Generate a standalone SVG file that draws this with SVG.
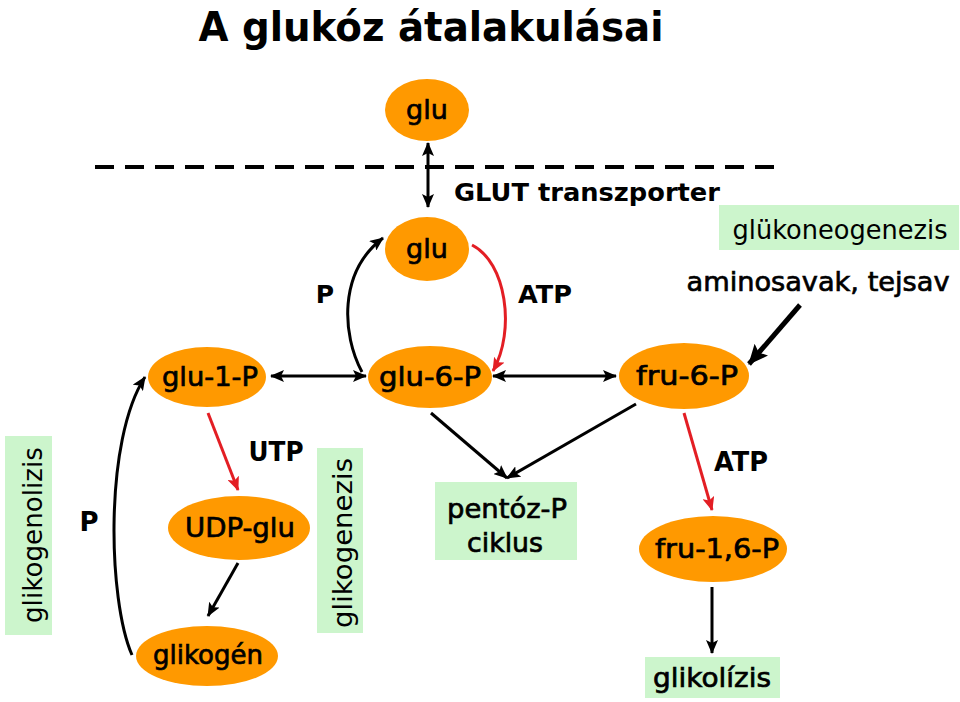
<svg xmlns="http://www.w3.org/2000/svg" width="960" height="702" viewBox="0 0 960 702">
<defs>
<style>
.node{fill:#FF9900;}
.lbl{font-family:"DejaVu Sans","Liberation Sans",sans-serif;font-size:27px;fill:#000;text-anchor:middle;}
.med{stroke:#000;stroke-width:0.7;}
.bold{font-family:"DejaVu Sans","Liberation Sans",sans-serif;font-weight:bold;fill:#000;}
.box{fill:#CCF5CC;}
.con{fill:none;stroke:#000;stroke-width:3;}
.red{fill:none;stroke:#E31E24;stroke-width:3;}
</style>
<marker id="ah" viewBox="0 0 14 12" refX="13" refY="6" markerWidth="14" markerHeight="12" markerUnits="userSpaceOnUse" orient="auto-start-reverse"><path d="M0,0 L14,6 L0,12 L3,6 z" fill="#000"/></marker>
<marker id="ahr" viewBox="0 0 14 12" refX="13" refY="6" markerWidth="14" markerHeight="12" markerUnits="userSpaceOnUse" orient="auto"><path d="M0,0 L14,6 L0,12 L3,6 z" fill="#E31E24"/></marker>
<marker id="ahb" viewBox="0 0 20 18" refX="19" refY="9" markerWidth="20" markerHeight="18" markerUnits="userSpaceOnUse" orient="auto"><path d="M0,0 L20,9 L0,18 L4,9 z" fill="#000"/></marker>
</defs>
<rect width="960" height="702" fill="#fff"/>
<text id="title" x="431" y="41" class="bold" font-size="40" text-anchor="middle" textLength="465" lengthAdjust="spacingAndGlyphs">A glukóz átalakulásai</text>
<line x1="95" y1="167" x2="782" y2="167" stroke="#000" stroke-width="4" stroke-dasharray="19 11"/>
<text x="454" y="201" class="bold" font-size="25" textLength="266" lengthAdjust="spacingAndGlyphs">GLUT transzporter</text>
<text x="325" y="303" class="bold" font-size="25" text-anchor="middle">P</text>
<text x="545" y="303" class="bold" font-size="25" text-anchor="middle" textLength="54" lengthAdjust="spacingAndGlyphs">ATP</text>
<text x="818" y="291" class="lbl med" font-size="25" textLength="263" lengthAdjust="spacingAndGlyphs">aminosavak, tejsav</text>
<text x="276" y="461" class="bold" font-size="27" text-anchor="middle" textLength="55" lengthAdjust="spacingAndGlyphs">UTP</text>
<text x="89" y="531" class="bold" font-size="26" text-anchor="middle">P</text>
<text x="741" y="471" class="bold" font-size="27" text-anchor="middle" textLength="54" lengthAdjust="spacingAndGlyphs">ATP</text>
<g id="glukoneogenezis"><rect class="box" x="719" y="205" width="240" height="45"/><text x="840" y="239" class="lbl" font-size="25" textLength="215" lengthAdjust="spacingAndGlyphs">glükoneogenezis</text></g>
<g id="glikogenolizis"><rect class="box" x="5" y="436" width="47" height="199"/><text transform="translate(42,535) rotate(-90)" class="lbl" font-size="26" textLength="176" lengthAdjust="spacingAndGlyphs">glikogenolizis</text></g>
<g id="glikogenezis"><rect class="box" x="317" y="448" width="46" height="185"/><text transform="translate(352,543) rotate(-90)" class="lbl" font-size="26" textLength="170" lengthAdjust="spacingAndGlyphs">glikogenezis</text></g>
<g id="pentoz"><rect class="box" x="435" y="482" width="142" height="78"/><text x="507" y="518" class="lbl med" textLength="120" lengthAdjust="spacingAndGlyphs">pentóz-P</text><text x="505" y="552" class="lbl med" textLength="76" lengthAdjust="spacingAndGlyphs">ciklus</text></g>
<g id="glikolizis"><rect class="box" x="645" y="657" width="135" height="41"/><text x="712" y="687" class="lbl med" textLength="118" lengthAdjust="spacingAndGlyphs">glikolízis</text></g>
<g id="glu-out"><ellipse class="node" cx="427" cy="110" rx="42" ry="31"/><text x="427" y="119" class="lbl med">glu</text></g>
<g id="glu-in"><ellipse class="node" cx="427" cy="249" rx="42" ry="32"/><text x="427" y="258" class="lbl med">glu</text></g>
<g id="glu-1-P"><ellipse class="node" cx="207" cy="377" rx="59" ry="30"/><text x="210" y="386" class="lbl med" textLength="96" lengthAdjust="spacingAndGlyphs">glu-1-P</text></g>
<g id="glu-6-P"><ellipse class="node" cx="430" cy="377" rx="62" ry="31"/><text x="430" y="386" class="lbl med" textLength="102" lengthAdjust="spacingAndGlyphs">glu-6-P</text></g>
<g id="fru-6-P"><ellipse class="node" cx="684" cy="376" rx="65" ry="33"/><text x="687" y="385" class="lbl med" textLength="102" lengthAdjust="spacingAndGlyphs">fru-6-P</text></g>
<g id="UDP-glu"><ellipse class="node" cx="239" cy="528" rx="71" ry="32"/><text x="240" y="537" class="lbl med" textLength="110" lengthAdjust="spacingAndGlyphs">UDP-glu</text></g>
<g id="glikogen"><ellipse class="node" cx="207" cy="656" rx="71" ry="30"/><text x="208" y="664" class="lbl med" textLength="110" lengthAdjust="spacingAndGlyphs">glikogén</text></g>
<g id="fru-1-6-P"><ellipse class="node" cx="713" cy="549" rx="74" ry="33"/><text x="717" y="558" class="lbl med" textLength="124" lengthAdjust="spacingAndGlyphs">fru-1,6-P</text></g>
<g id="connectors">
<line class="con" x1="428" y1="143" x2="428" y2="207" marker-start="url(#ah)" marker-end="url(#ah)"/>
<path class="con" d="M362,372 C342,335 338,272 383,238" marker-end="url(#ah)"/>
<path class="red" d="M472,245 C506,262 516,330 493,371" marker-end="url(#ahr)"/>
<line class="con" x1="271" y1="376" x2="366" y2="376" marker-start="url(#ah)" marker-end="url(#ah)"/>
<line class="con" x1="493" y1="376" x2="616" y2="376" marker-start="url(#ah)" marker-end="url(#ah)"/>
<line x1="800" y1="305" x2="749" y2="364" stroke="#000" stroke-width="5" marker-end="url(#ahb)"/>
<line class="con" x1="431" y1="413" x2="507" y2="478" marker-end="url(#ah)"/>
<line class="con" x1="636" y1="404" x2="507" y2="478" marker-end="url(#ah)"/>
<line class="red" x1="208" y1="413" x2="238" y2="490" marker-end="url(#ahr)"/>
<line class="con" x1="238" y1="563" x2="208" y2="616" marker-end="url(#ah)"/>
<path class="con" d="M132,655 C108,600 104,440 145,377" marker-end="url(#ah)"/>
<line class="red" x1="684" y1="413" x2="712" y2="510" marker-end="url(#ahr)"/>
<line class="con" x1="712" y1="587" x2="712" y2="653" marker-end="url(#ah)"/>
</g>
</svg>
